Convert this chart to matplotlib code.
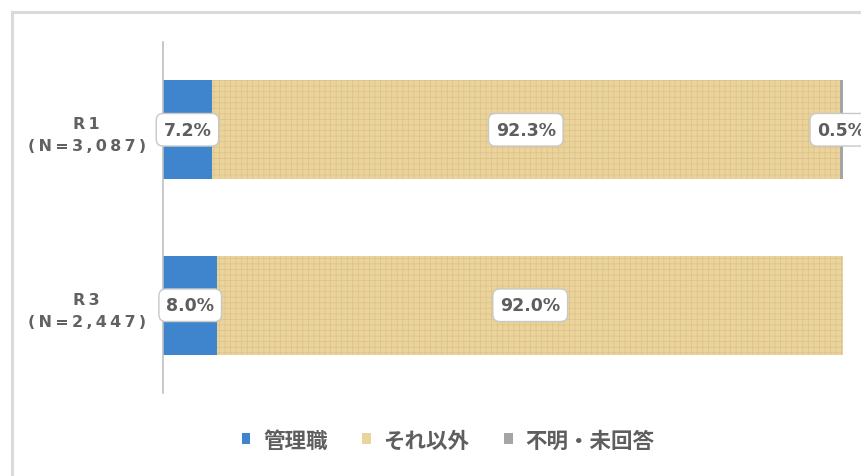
import matplotlib
matplotlib.use("Agg")
import matplotlib.pyplot as plt
from matplotlib.lines import Line2D
from matplotlib.patches import Patch

plt.rcParams['font.family'] = ['Noto Sans CJK JP', 'DejaVu Sans']
plt.rcParams['hatch.linewidth'] = 0.5

categories = ['R\u20091\n(\u2009N\u2009=\u20093\u2009,\u20090\u20098\u20097\u2009)',
              'R\u20093\n(\u2009N\u2009=\u20092\u2009,\u20094\u20094\u20097\u2009)']
series_names = ['管理職', 'それ以外', '不明・未回答']
kanri = [7.2, 8.0]
sonota = [92.3, 92.0]
fumei = [0.5, 0.0]

colors = ['#3F85CD', '#EBD39C', '#A5A5A5']
text_color = '#595959'

W, H = 861, 477
fig = plt.figure(figsize=(W / 100, H / 100), dpi=100)
fig.patch.set_facecolor('white')

# outer frame (left and top visible)
fig.add_artist(Line2D([11.5 / W, 11.5 / W], [0, 1 - 13 / H], color='#DADADA', lw=2.2, transform=fig.transFigure))
fig.add_artist(Line2D([11.5 / W, 1.0], [1 - 13 / H, 1 - 13 / H], color='#DADADA', lw=2.2, transform=fig.transFigure))

ax = fig.add_axes([163 / W, 1 - 394 / H, (843 - 163) / W, (394 - 43) / H])
ax.set_facecolor('white')

y = list(range(len(categories)))
bh = 0.565
left = [0.0] * len(categories)
series = [kanri, sonota, fumei]
for i, (name, vals) in enumerate(zip(series_names, series)):
    if i == 1:
        kw = dict(hatch='+++', edgecolor='#DCC28A', linewidth=0)
    else:
        kw = dict(edgecolor='none', linewidth=0)
    ax.barh(y, vals, left=left, height=bh, color=colors[i], label=name, **kw)
    for yy, l, v in zip(y, left, vals):
        if v > 0:
            ax.text(l + v / 2, yy, f'{v:.1f}%', ha='center', va='center',
                    fontsize=12.5, color='#5E5E5E', fontweight='bold',
                    bbox=dict(boxstyle='round,pad=0.42,rounding_size=0.4',
                              fc='white', ec='#C8C8C8', lw=1.0),
                    clip_on=False, zorder=5, family=['DejaVu Sans'])
    left = [a + b for a, b in zip(left, vals)]

ax.set_xlim(0, 100)
ax.set_ylim(1.5, -0.5)
ax.set_yticks(y)
ax.set_yticklabels(categories, fontsize=11.5, color='#626262', ha='center',
                   linespacing=1.6, family=['DejaVu Sans'], fontweight='bold')
ax.tick_params(axis='y', length=0, pad=55)
ax.set_xticks([])
for s in ['top', 'right', 'bottom']:
    ax.spines[s].set_visible(False)
ax.spines['left'].set_color('#BFBFBF')
ax.spines['left'].set_linewidth(1.2)

handles = [Patch(facecolor=c, edgecolor='none') for c in colors]
fig.legend(handles, series_names, loc='center', bbox_to_anchor=(448 / W, 1 - 441 / H),
           ncol=3, frameon=False, prop={'size': 15.5, 'weight': 'bold'},
           handlelength=0.4, handleheight=0.4,
           handletextpad=0.6, columnspacing=1.6, labelcolor='#5E5E5E')

fig.savefig('out.png', dpi=100, facecolor='white')
